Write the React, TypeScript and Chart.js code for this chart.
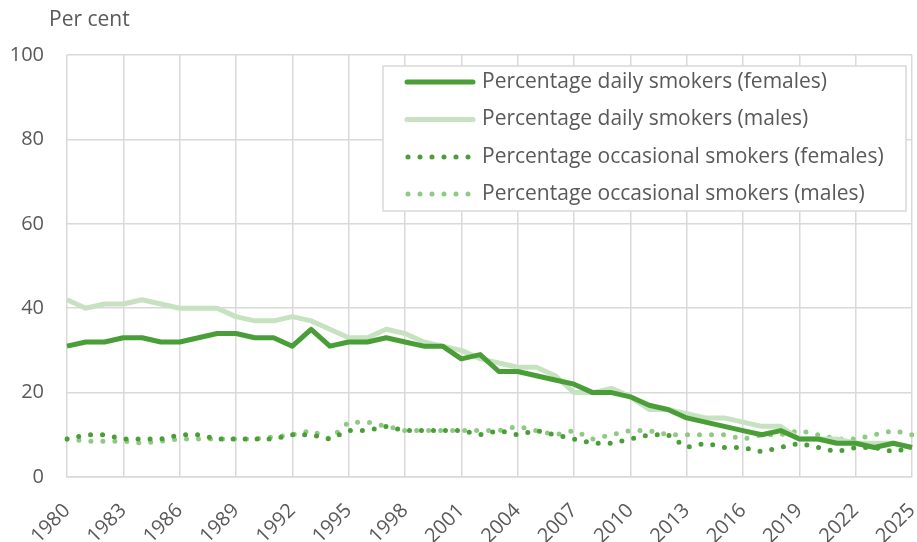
import React, { useEffect, useRef } from 'react';
import { Chart, registerables } from 'chart.js';
Chart.register(...registerables);

const years = [
  '1980','1981','1982','1983','1984','1985','1986','1987','1988','1989',
  '1990','1991','1992','1993','1994','1995','1996','1997','1998','1999',
  '2000','2001','2002','2003','2004','2005','2006','2007','2008','2009',
  '2010','2011','2012','2013','2014','2015','2016','2017','2018','2019',
  '2020','2021','2022','2023','2024','2025'
];

const dailyFemales = [
  31, 32, 32, 33, 33, 32, 32, 33, 34, 34,
  33, 33, 31, 35, 31, 32, 32, 33, 32, 31,
  31, 28, 29, 25, 25, 24, 23, 22, 20, 20,
  19, 17, 16, 14, 13, 12, 11, 10, 11, 9,
  9, 8, 8, 7, 8, 7
];

const dailyMales = [
  42, 40, 41, 41, 42, 41, 40, 40, 40, 38,
  37, 37, 38, 37, 35, 33, 33, 35, 34, 32,
  31, 30, 28, 27, 26, 26, 24, 20, 20, 21,
  19, 16, 16, 15, 14, 14, 13, 12, 12, 9,
  9, 9, 8, 8, 8, 7
];

const occasionalFemales = [
  9, 10, 10, 9, 9, 9, 10, 10, 9, 9,
  9, 9, 10, 10, 9, 11, 11, 12, 11, 11,
  11, 11, 10, 11, 10, 11, 10, 9, 8, 8,
  9, 10, 10, 7, 8, 7, 7, 6, 7, 8,
  7, 6, 7, 7, 6, 7
];

const occasionalMales = [
  9, 8.5, 8.5, 8.5, 8, 8.5, 9, 9, 9, 9,
  9, 9.5, 10, 11, 9, 13, 13, 12, 11, 11,
  11, 11, 11, 11, 12, 11, 10, 11, 9, 10,
  11, 11, 10, 10, 10, 10, 9, 10, 10, 11,
  10, 9, 9, 10, 11, 10
];

const seriesNames = [
  'Percentage daily smokers (females)',
  'Percentage daily smokers (males)',
  'Percentage occasional smokers (females)',
  'Percentage occasional smokers (males)'
];

const yTicks = [0, 20, 40, 60, 80, 100];

const DARK = '#4a9e37';
const LIGHT = '#c7e2c1';
const LIGHT_DOT = '#8fca85';
const TEXT = '#595959';
const GRID = '#d9d9d9';
const FONT = '"Open Sans", "Noto Sans", sans-serif';

const overlayPlugin = {
  id: 'overlay',
  afterDatasetsDraw(chart: any) {
    const ctx = chart.ctx;
    ctx.save();
    ctx.fillStyle = TEXT;
    ctx.font = `21px ${FONT}`;
    ctx.textAlign = 'left';
    ctx.textBaseline = 'middle';
    ctx.fillText('Per cent', 49, 20);

    const bx = 383, by = 66, bw = 523, bh = 145;
    ctx.fillStyle = '#ffffff';
    ctx.fillRect(bx, by, bw, bh);
    ctx.strokeStyle = GRID;
    ctx.lineWidth = 1.5;
    ctx.strokeRect(bx, by, bw, bh);

    const rows = [82, 119.5, 157, 194];
    chart.data.datasets.forEach((ds: any, i: number) => {
      const y = rows[i];
      ctx.save();
      ctx.strokeStyle = ds.borderColor;
      ctx.lineWidth = ds.borderWidth;
      ctx.lineCap = 'round';
      if (ds.borderDash && ds.borderDash.length) {
        ctx.setLineDash([0, 12]);
        ctx.beginPath();
        ctx.moveTo(408, y);
        ctx.lineTo(472, y);
        ctx.stroke();
      } else {
        ctx.beginPath();
        ctx.moveTo(407, y);
        ctx.lineTo(473, y);
        ctx.stroke();
      }
      ctx.restore();
      ctx.fillStyle = TEXT;
      ctx.font = `21px ${FONT}`;
      ctx.textAlign = 'left';
      ctx.textBaseline = 'middle';
      ctx.fillText(ds.label, 482, y);
    });
    ctx.restore();
  }
};

export default function App() {
  const ref = useRef<HTMLCanvasElement | null>(null);
  useEffect(() => {
    if (!ref.current) return;
    const chart = new Chart(ref.current, {
      type: 'line',
      data: {
        labels: years,
        datasets: [
          {
            label: seriesNames[0],
            data: dailyFemales,
            borderColor: DARK,
            borderWidth: 5,
            pointRadius: 0,
            tension: 0,
            borderJoinStyle: 'round',
            order: 1
          },
          {
            label: seriesNames[1],
            data: dailyMales,
            borderColor: LIGHT,
            borderWidth: 5,
            pointRadius: 0,
            tension: 0,
            borderJoinStyle: 'round',
            order: 2
          },
          {
            label: seriesNames[2],
            data: occasionalFemales,
            borderColor: DARK,
            borderWidth: 5,
            borderDash: [0, 12],
            borderCapStyle: 'round',
            pointRadius: 0,
            tension: 0,
            order: 3
          },
          {
            label: seriesNames[3],
            data: occasionalMales,
            borderColor: LIGHT_DOT,
            borderWidth: 5,
            borderDash: [0, 12],
            borderCapStyle: 'round',
            pointRadius: 0,
            tension: 0,
            order: 4
          }
        ]
      },
      options: {
        animation: false,
        responsive: false,
        maintainAspectRatio: false,
        layout: { padding: { top: 55, right: 5, left: 0, bottom: 0 } },
        plugins: {
          legend: { display: false },
          tooltip: { enabled: false }
        },
        scales: {
          x: {
            type: 'category',
            offset: false,
            grid: {
              color: (c: any) => (c.index % 3 === 0 ? GRID : 'rgba(0,0,0,0)'),
              lineWidth: 1.5,
              drawTicks: false
            },
            border: { color: GRID, width: 1.5 },
            ticks: {
              autoSkip: false,
              minRotation: 45,
              maxRotation: 45,
              padding: 22,
              color: TEXT,
              font: { family: FONT, size: 20 },
              callback: (_v: any, i: number) => (i % 3 === 0 ? years[i] : '')
            },
            afterFit: (s: any) => {
              s.height = 65;
              s.paddingLeft = 0;
              s.paddingRight = 0;
            }
          },
          y: {
            min: 0,
            max: 100,
            afterBuildTicks: (s: any) => { s.ticks = yTicks.map((v) => ({ value: v })); },
            grid: { color: GRID, lineWidth: 1.5, drawTicks: false },
            border: { display: false },
            ticks: {
              color: TEXT,
              padding: 23,
              font: { family: FONT, size: 20 }
            },
            afterFit: (s: any) => { s.width = 67; s.paddingTop = 0; s.paddingBottom = 0; }
          }
        }
      },
      plugins: [overlayPlugin]
    });
    return () => chart.destroy();
  }, []);
  return (
    <div style={{ position: 'fixed', left: 0, top: 0, width: 917, height: 542, background: '#fff' }}>
      <canvas ref={ref} width={917} height={542} style={{ width: 917, height: 542, display: 'block' }} />
    </div>
  );
}
